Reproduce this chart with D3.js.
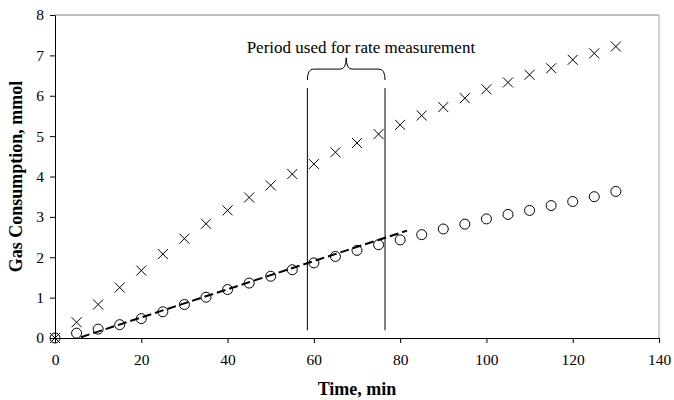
<!DOCTYPE html>
<html><head><meta charset="utf-8">
<script src="https://cdn.jsdelivr.net/npm/d3@7"></script>
<style>
html,body{margin:0;padding:0;background:#fff;}
svg text{font-family:"Liberation Serif","Times New Roman",serif;fill:#000;}
</style></head>
<body><svg id="c" width="674" height="400"></svg>
<script>
const times = [0,5,10,15,20,25,30,35,40,45,50,55,60,65,70,75,80,85,90,95,100,105,110,115,120,125,130];
const crossSeries = [0,0.39,0.83,1.25,1.67,2.08,2.46,2.83,3.16,3.48,3.78,4.06,4.31,4.60,4.83,5.05,5.28,5.51,5.72,5.94,6.16,6.33,6.52,6.68,6.89,7.05,7.22];
const circleSeries = [0,0.12,0.22,0.33,0.48,0.65,0.83,1.01,1.20,1.36,1.53,1.69,1.86,2.02,2.17,2.31,2.43,2.56,2.70,2.82,2.95,3.06,3.16,3.28,3.38,3.50,3.63];
const fitLineX = [6.0, 81.6];
const fitLineY = [0.02, 2.66];
const periodBounds = [58.5, 76.5];
const periodLineY = [0.19, 6.19];
const braceY = [6.39, 6.66, 6.94];
const annotationText = "Period used for rate measurement";
const annotationPos = [70.9, 7.07];
const xTicks = [0,20,40,60,80,100,120,140];
const yTicks = [0,1,2,3,4,5,6,7,8];
const xTitle = "Time, min";
const yTitle = "Gas Consumption, mmol";

const W = 674, H = 400;
const m = {l:55, r:15, t:15, b:62};
const FONT = '"Liberation Serif","Times New Roman",serif';
const svg = d3.select("#c");
const x = d3.scaleLinear().domain([0,140]).range([m.l, W - m.r]);
const y = d3.scaleLinear().domain([0,8]).range([H - m.b, m.t]);

// frame top/right
svg.append("line").attr("x1", x(0)).attr("x2", x(140)).attr("y1", y(8)).attr("y2", y(8))
  .attr("stroke", "#808080").attr("stroke-width", 1);
svg.append("line").attr("x1", x(140)).attr("x2", x(140)).attr("y1", y(8)).attr("y2", y(0))
  .attr("stroke", "#b0b0b0").attr("stroke-width", 1.2);

// axes
const xAxis = svg.append("g").attr("transform", `translate(0,${y(0)})`)
  .call(d3.axisBottom(x).tickValues(xTicks).tickSize(5).tickSizeOuter(0).tickPadding(11));
const yAxis = svg.append("g").attr("transform", `translate(${x(0)},0)`)
  .call(d3.axisLeft(y).tickValues(yTicks).tickSize(5).tickSizeOuter(0).tickPadding(6));
[xAxis, yAxis].forEach(g => {
  g.attr("font-family", FONT);
  g.selectAll("path, line").attr("stroke", "#000").attr("stroke-width", 1);
  g.selectAll("text").style("font-family", FONT).style("font-size", "15.5px").attr("fill", "#000");
});

// titles
svg.append("text").attr("x", (x(0) + x(140)) / 2).attr("y", 395).attr("text-anchor", "middle")
  .style("font-family", FONT).style("font-size", "18px").style("font-weight", "bold").text(xTitle);
svg.append("text").attr("transform", `translate(22,${(y(0) + y(8)) / 2}) rotate(-90)`)
  .attr("text-anchor", "middle").style("font-family", FONT).style("font-size", "18px").style("font-weight", "bold").text(yTitle);

// fit dashed line
svg.append("path")
  .attr("d", d3.line().x(d => x(d[0])).y(d => y(d[1]))(fitLineX.map((v, i) => [v, fitLineY[i]])))
  .attr("stroke", "#000").attr("stroke-width", 2).attr("stroke-dasharray", "9,4").attr("fill", "none");

// period lines
periodBounds.forEach(v => {
  svg.append("line").attr("x1", x(v)).attr("x2", x(v)).attr("y1", y(periodLineY[0])).attr("y2", y(periodLineY[1]))
    .attr("stroke", "#000").attr("stroke-width", 1);
});

// brace
const bx0 = x(periodBounds[0]), bx1 = x(periodBounds[1]), bm = (bx0 + bx1) / 2;
const yEnd = y(braceY[0]), yFlat = y(braceY[1]), yPeak = y(braceY[2]);
const r = 6;
const bracePath = `M${bx0},${yEnd} Q${bx0},${yFlat} ${bx0 + r},${yFlat} L${bm - r},${yFlat} Q${bm},${yFlat} ${bm},${yPeak}` +
  ` Q${bm},${yFlat} ${bm + r},${yFlat} L${bx1 - r},${yFlat} Q${bx1},${yFlat} ${bx1},${yEnd}`;
svg.append("path").attr("d", bracePath).attr("stroke", "#000").attr("stroke-width", 1).attr("fill", "none");

svg.append("text").attr("x", x(annotationPos[0])).attr("y", y(annotationPos[1])).attr("text-anchor", "middle")
  .style("font-family", FONT).style("font-size", "17px").text(annotationText);

// circles
svg.append("g").selectAll("circle").data(times.map((t, i) => [t, circleSeries[i]])).join("circle")
  .attr("cx", d => x(d[0])).attr("cy", d => y(d[1])).attr("r", 5)
  .attr("fill", "none").attr("stroke", "#000").attr("stroke-width", 1);

// crosses
const cs = 5;
svg.append("g").selectAll("path").data(times.map((t, i) => [t, crossSeries[i]])).join("path")
  .attr("d", d => { const cx = x(d[0]), cy = y(d[1]);
    return `M${cx - cs},${cy - cs}L${cx + cs},${cy + cs}M${cx - cs},${cy + cs}L${cx + cs},${cy - cs}`; })
  .attr("stroke", "#000").attr("stroke-width", 1).attr("fill", "none");
</script></body></html>
